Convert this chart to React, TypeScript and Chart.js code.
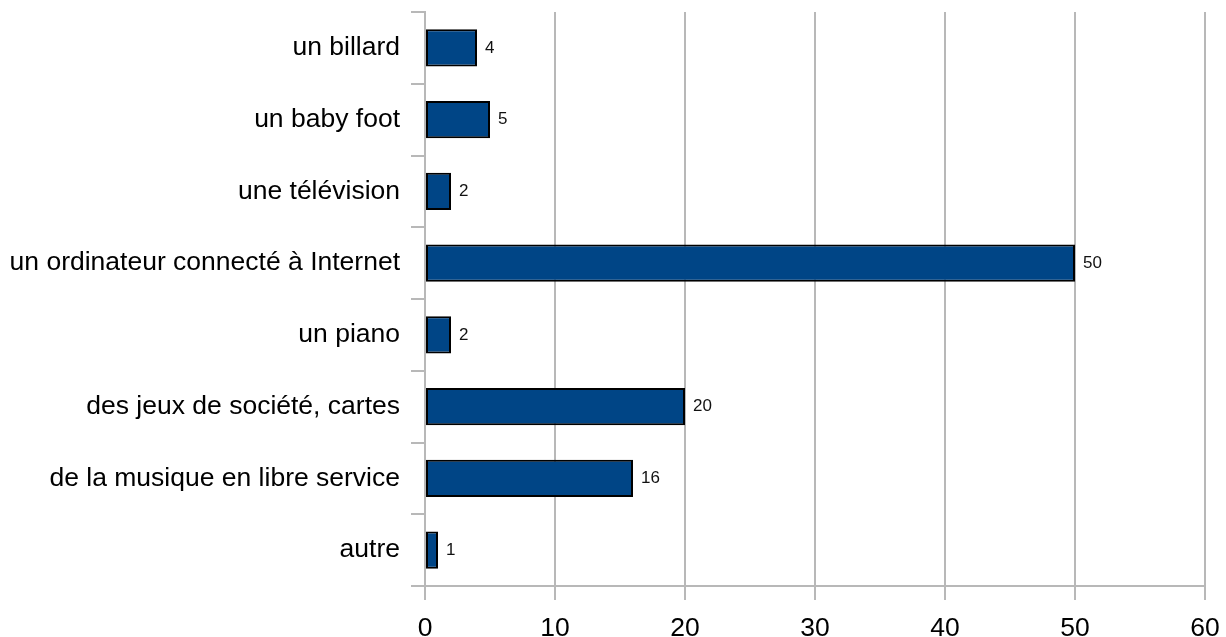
import React, { useEffect, useRef } from "react";
import { Chart, registerables } from "chart.js";

Chart.register(...registerables);

const categories = [
  "un billard",
  "un baby foot",
  "une télévision",
  "un ordinateur connecté à Internet",
  "un piano",
  "des jeux de société, cartes",
  "de la musique en libre service",
  "autre",
];
const values = [4, 5, 2, 50, 2, 20, 16, 1];
const xMin = 0;
const xMax = 60;
const xStep = 10;

const GRID = "#b8b8b8";
const FONT = "'Liberation Sans', Arial, sans-serif";

const valueLabels = {
  id: "valueLabels",
  afterDatasetsDraw(chart: any) {
    const ctx = chart.ctx;
    const meta = chart.getDatasetMeta(0);
    ctx.save();
    ctx.font = `17px ${FONT}`;
    ctx.fillStyle = "#111";
    ctx.textAlign = "left";
    ctx.textBaseline = "middle";
    meta.data.forEach((bar: any, i: number) => {
      ctx.fillText(String(values[i]), bar.x + 8, bar.y);
    });
    ctx.restore();
  },
};

export default function App() {
  const ref = useRef<HTMLCanvasElement | null>(null);
  useEffect(() => {
    if (!ref.current) return;
    const chart = new Chart(ref.current, {
      type: "bar",
      data: {
        labels: categories,
        datasets: [
          {
            data: values,
            backgroundColor: "#004586",
            borderColor: "#000",
            borderWidth: 2,
            borderSkipped: false,
            barPercentage: 0.52,
            categoryPercentage: 1,
          },
        ],
      },
      options: {
        indexAxis: "y",
        responsive: false,
        animation: false,
        layout: { padding: { top: 12, right: 21, left: 0, bottom: 0 } },
        plugins: { legend: { display: false }, tooltip: { enabled: false } },
        scales: {
          x: {
            min: xMin,
            max: xMax,
            ticks: {
              stepSize: xStep,
              color: "#000",
              font: { family: FONT, size: 26.5 },
              padding: 13,
              maxRotation: 0,
            },
            grid: { color: GRID, lineWidth: 2, tickLength: 14, drawOnChartArea: true },
            border: { color: GRID, width: 2 },
            afterFit: (s: any) => {
              s.height = 51;
              s.paddingLeft = 0;
              s.paddingRight = 0;
            },
          },
          y: {
            offset: true,
            ticks: {
              color: "#000",
              font: { family: FONT, size: 26.5 },
              padding: 11,
            },
            grid: { offset: true, color: GRID, lineWidth: 2, tickLength: 14, drawOnChartArea: false },
            border: { color: GRID, width: 2 },
            afterFit: (s: any) => {
              s.width = 425;
              s.paddingTop = 0;
              s.paddingBottom = 0;
            },
          },
        },
      },
      plugins: [valueLabels],
    });
    return () => chart.destroy();
  }, []);
  return (
    <div style={{ position: "fixed", left: 0, top: 0, width: 1226, height: 637, background: "#fff" }}>
      <canvas ref={ref} width={1226} height={637} style={{ width: 1226, height: 637 }} />
    </div>
  );
}
